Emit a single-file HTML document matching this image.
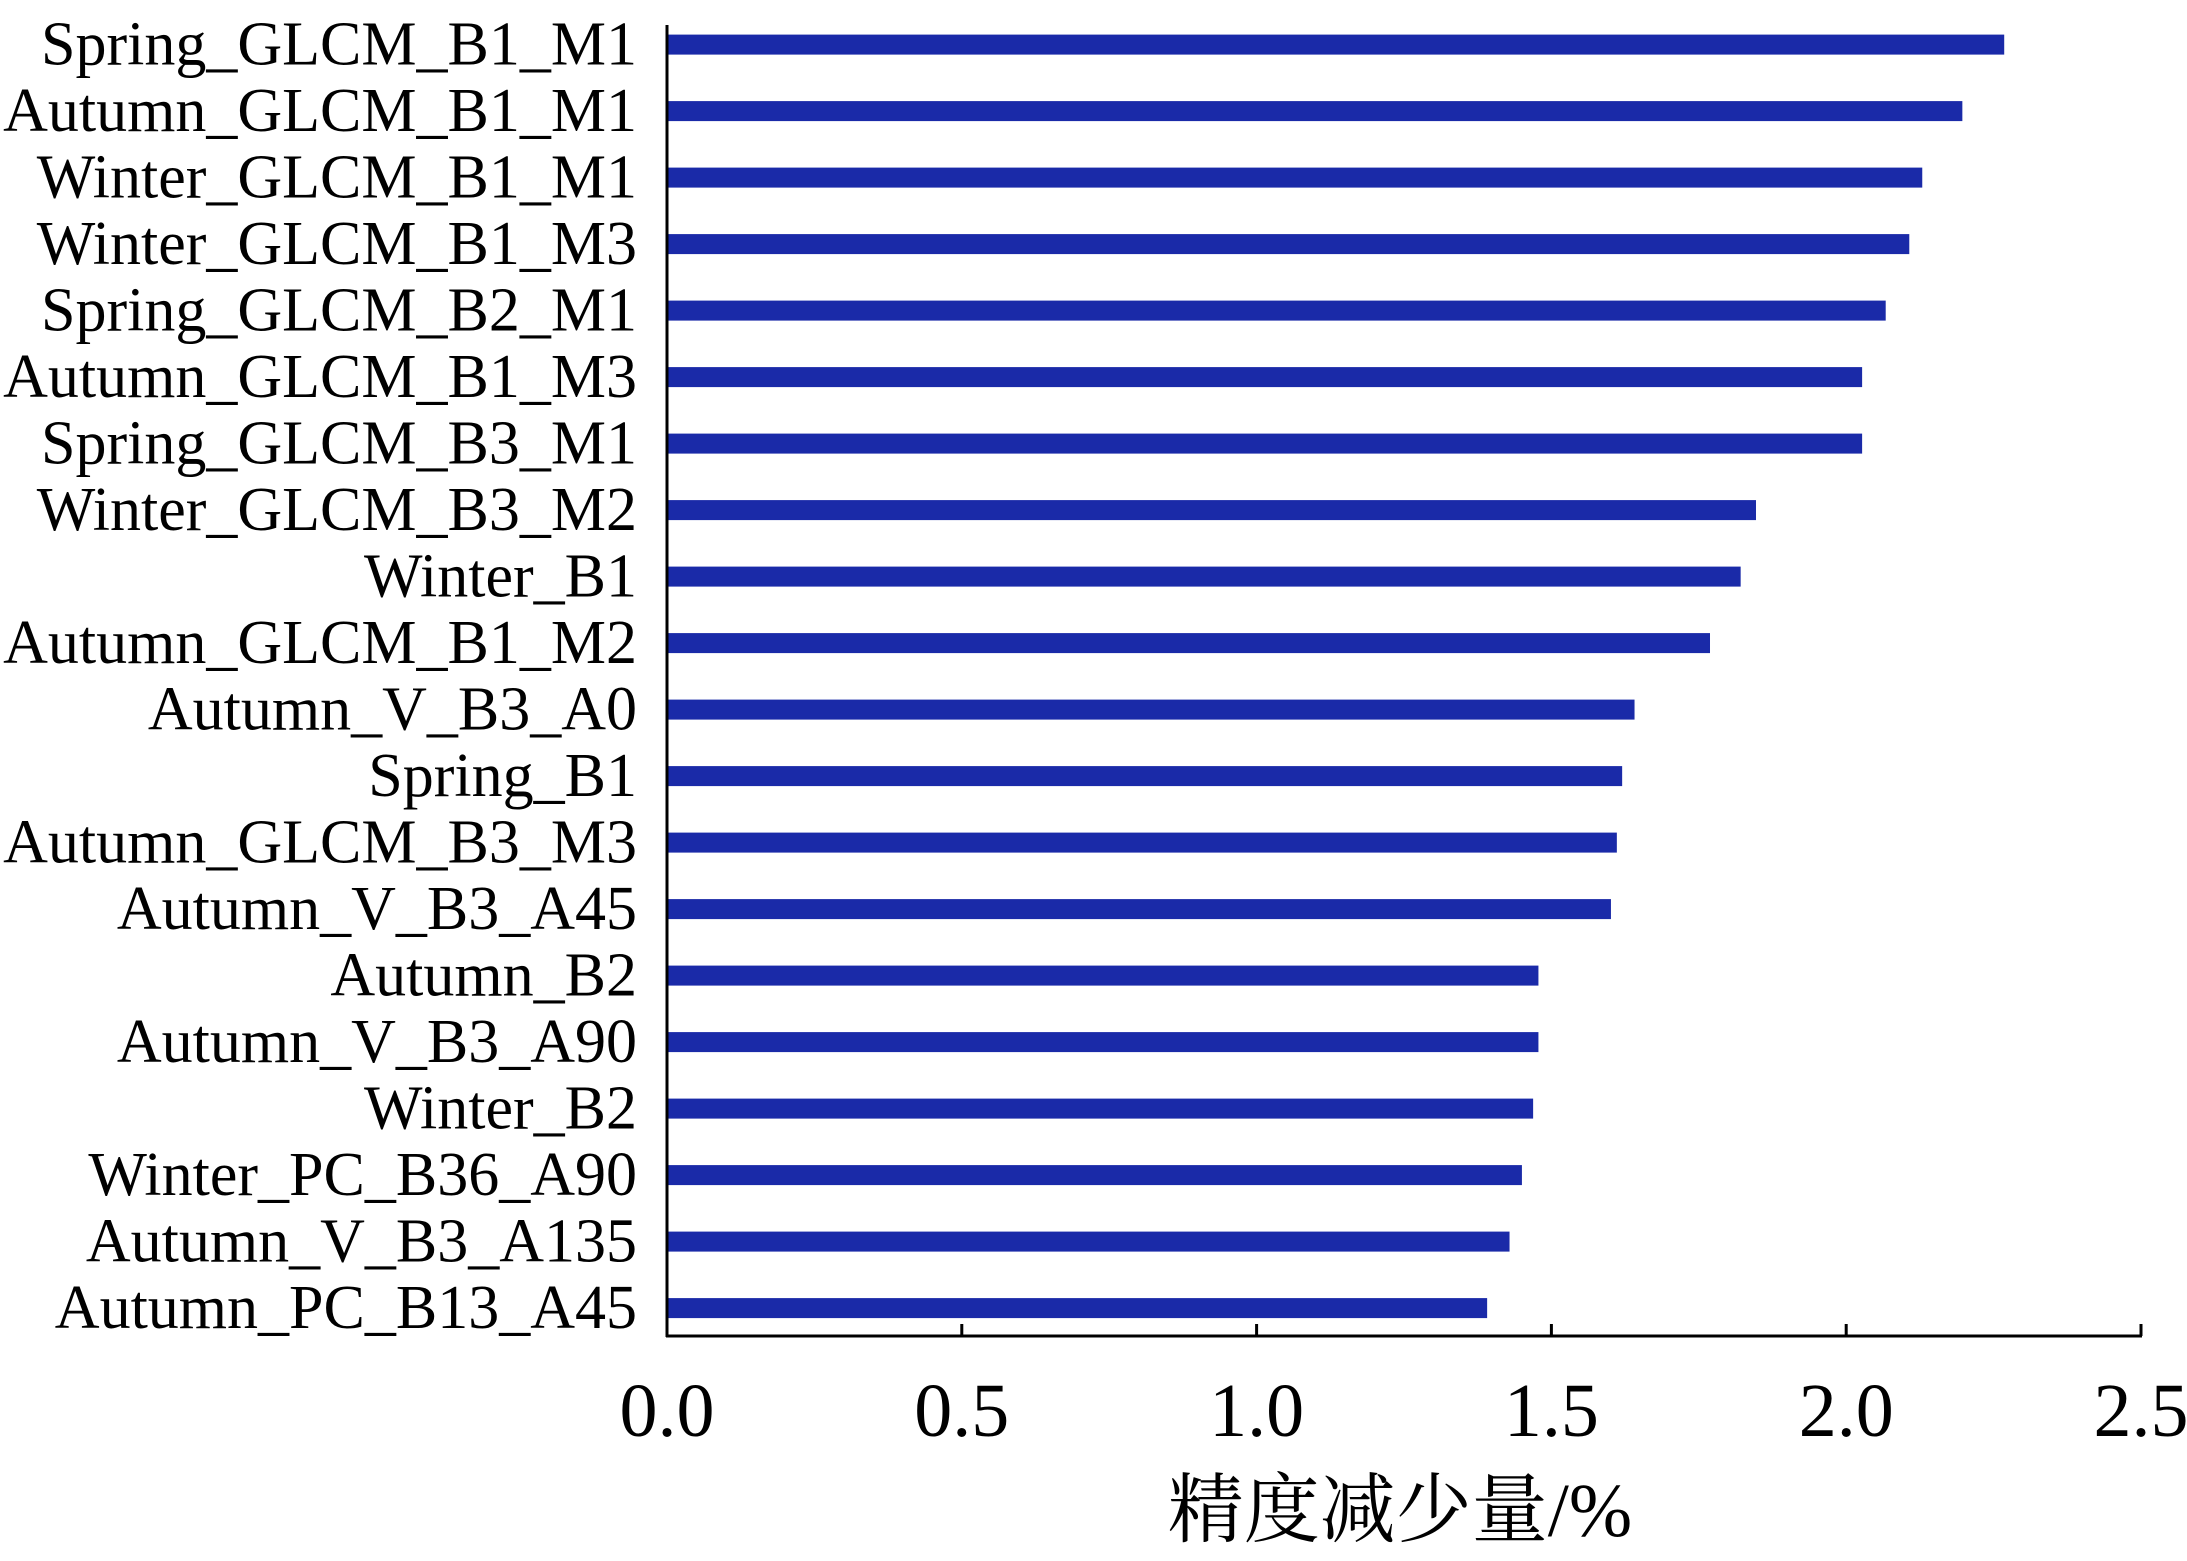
<!DOCTYPE html>
<html><head><meta charset="utf-8"><style>html,body{margin:0;padding:0;background:#fff}svg{display:block}</style></head>
<body>
<svg id="chart" width="2187" height="1561" viewBox="0 0 2187 1561" xmlns="http://www.w3.org/2000/svg" font-family="'Liberation Serif','Noto Serif CJK SC',serif"></svg>
<script>
const categories = ["Spring_GLCM_B1_M1","Autumn_GLCM_B1_M1","Winter_GLCM_B1_M1","Winter_GLCM_B1_M3","Spring_GLCM_B2_M1","Autumn_GLCM_B1_M3","Spring_GLCM_B3_M1","Winter_GLCM_B3_M2","Winter_B1","Autumn_GLCM_B1_M2","Autumn_V_B3_A0","Spring_B1","Autumn_GLCM_B3_M3","Autumn_V_B3_A45","Autumn_B2","Autumn_V_B3_A90","Winter_B2","Winter_PC_B36_A90","Autumn_V_B3_A135","Autumn_PC_B13_A45"];
const values = [2.268,2.197,2.129,2.107,2.067,2.027,2.027,1.847,1.821,1.769,1.641,1.620,1.611,1.601,1.478,1.478,1.469,1.450,1.429,1.391];
const tickValues = [0,0.5,1,1.5,2,2.5];
const tickLabels = ["0.0","0.5","1.0","1.5","2.0","2.5"];

const svg = document.getElementById('chart');
const NS = 'http://www.w3.org/2000/svg';
const x0 = 667, x1 = 2141, xmax = 2.5;
const axisY = 1336, axisTop = 25;
const firstY = 44.6, step = 66.5, barH = 20;
const xs = v => x0 + v / xmax * (x1 - x0);
const ys = i => firstY + i * step;
function mk(tag, attrs) { const e = document.createElementNS(NS, tag); for (const k in attrs) e.setAttribute(k, attrs[k]); svg.appendChild(e); return e; }

categories.forEach((c, i) => {
  const r = mk('rect', {x: x0, y: ys(i) - barH / 2, width: xs(values[i]) - x0, height: barH, fill: '#1a2aa8'});
  
  
  const t = mk('text', {x: 637, y: ys(i) + 20, 'font-size': 62, 'text-anchor': 'end', fill: '#000'});
  t.textContent = c;
  
  
});

const ya = mk('line', {x1: x0, y1: axisTop, x2: x0, y2: axisY + 1, stroke: '#000', 'stroke-width': 3});


const xa = mk('line', {x1: x0 - 1, y1: axisY, x2: x1 + 1, y2: axisY, stroke: '#000', 'stroke-width': 3});



tickValues.forEach((v, i) => {
  const tk = mk('line', {x1: xs(v), y1: axisY, x2: xs(v), y2: axisY - 12, stroke: '#000', 'stroke-width': 3});
  
  
  const tl = mk('text', {x: xs(v), y: 1436, 'font-size': 76, 'text-anchor': 'middle', fill: '#000'});
  tl.textContent = tickLabels[i];
  
  
});

const xt = mk('text', {x: 1400, y: 1536, 'font-size': 76, 'text-anchor': 'middle', fill: '#000'});
xt.textContent = '精度减少量/%';


</script>
</body></html>
